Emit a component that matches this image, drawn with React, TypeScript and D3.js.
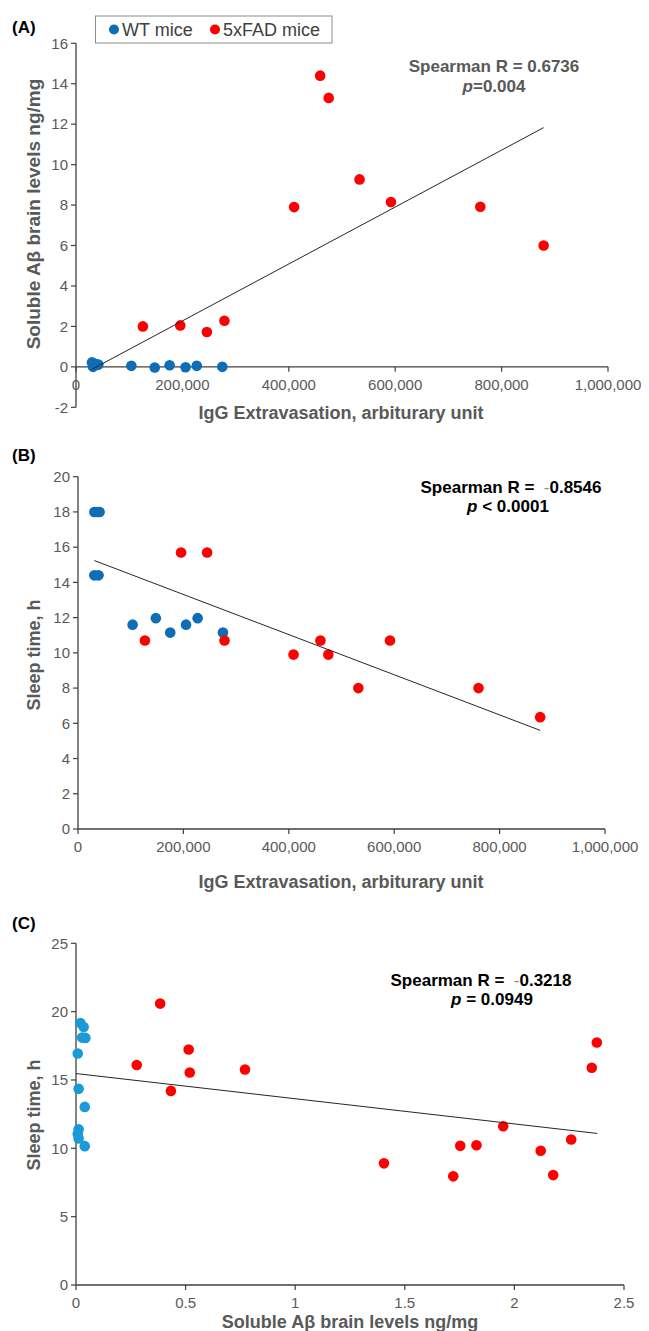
import * as d3 from 'd3'

// panel A: IgG extravasation vs soluble Abeta
const wtIggA = [30000, 32000, 36000, 40000, 42000, 104000, 148000, 176000, 206000, 227000, 275000]
const wtAbetaA = [0.22, 0.0, 0.15, 0.1, 0.12, 0.05, -0.03, 0.08, -0.02, 0.05, 0.0]
const fadIggA = [125700, 196000, 246000, 279000, 410000, 459000, 475000, 533000, 592000, 760000, 879000]
const fadAbetaA = [2.0, 2.05, 1.72, 2.28, 7.9, 14.4, 13.3, 9.27, 8.15, 7.92, 6.0]
const trendA = [[30000, -0.12], [879000, 11.83]]

// panel B: IgG extravasation vs sleep time
const wtIggB = [31000, 36000, 41000, 31000, 39000, 103600, 147700, 175000, 205000, 227000, 275000]
const wtSleepB = [18, 18, 18, 14.4, 14.4, 11.6, 11.97, 11.15, 11.6, 11.97, 11.15]
const fadIggB = [127000, 195500, 245000, 278000, 409000, 460000, 475000, 532000, 592000, 760000, 877000]
const fadSleepB = [10.7, 15.7, 15.7, 10.7, 9.9, 10.7, 9.9, 8.0, 10.7, 8.0, 6.35]
const trendB = [[31000, 15.24], [877000, 5.6]]

// panel C: soluble Abeta vs sleep time
const wtAbetaC = [0.02, 0.035, 0.043, 0.028, 0.008, 0.012, 0.04, 0.012, 0.008, 0.012, 0.04]
const wtSleepC = [19.17, 18.88, 18.08, 18.1, 16.94, 14.35, 13.03, 11.4, 11.04, 10.72, 10.16]
const fadAbetaC = [0.277, 0.384, 0.433, 0.514, 0.519, 0.771, 1.405, 1.721, 1.753, 1.827, 1.949, 2.12, 2.177, 2.259, 2.353, 2.376]
const fadSleepC = [16.1, 20.59, 14.2, 17.23, 15.55, 15.77, 8.9, 7.95, 10.18, 10.23, 11.62, 9.82, 8.04, 10.65, 15.89, 17.74]
const trendC = [[0, 15.47], [2.378, 11.09]]

const ticksIgg = [0, 200000, 400000, 600000, 800000, 1000000]
const ticksAbetaY = [-2, 0, 2, 4, 6, 8, 10, 12, 14, 16]
const ticksSleepB = [0, 2, 4, 6, 8, 10, 12, 14, 16, 18, 20]
const ticksSleepC = [0, 5, 10, 15, 20, 25]
const ticksAbetaX = [0, 0.5, 1, 1.5, 2, 2.5]

const FONT = '"Liberation Sans", Arial, sans-serif'
const GRAY = '#595959'
const AXIS = '#404040'
const RED = '#FF0000'

type PanelProps = {
  label: string
  labelY: number
  x: d3.ScaleLinear<number, number>
  y: d3.ScaleLinear<number, number>
  xTicks: number[]
  yTicks: number[]
  xFmt: (v: number) => string
  xAxisAt: number
  xTickLabelY: number
  xTitle: string
  xTitleX: number
  xTitleY: number
  yTitle: string
  yTitleX: number
  yTitleY: number
  yTitleSize: number
  series: { xs: number[]; ys: number[]; color: string }[]
  trend: number[][]
}

function Panel(p: PanelProps) {
  const [x0, x1] = p.x.range()
  const [yb, yt] = p.y.range()
  const ay = p.y(p.xAxisAt)
  return (
    <g>
      <text x={12} y={p.labelY} fontFamily={FONT} fontWeight="bold" fontSize={17} fill="#000">{p.label}</text>
      {/* y axis */}
      <line x1={x0} x2={x0} y1={yt} y2={yb} stroke={AXIS} strokeWidth={1.3} />
      {p.yTicks.map(t => (
        <g key={'y' + t}>
          <line x1={x0 - 5} x2={x0} y1={p.y(t)} y2={p.y(t)} stroke={AXIS} strokeWidth={1.2} />
          <text x={x0 - 8} y={p.y(t)} dy="0.35em" textAnchor="end" fontFamily={FONT} fontSize={15} fill={GRAY}>{t}</text>
        </g>
      ))}
      {/* x axis */}
      <line x1={x0} x2={x1} y1={ay} y2={ay} stroke={AXIS} strokeWidth={1.3} />
      {p.xTicks.map(t => (
        <g key={'x' + t}>
          <line x1={p.x(t)} x2={p.x(t)} y1={ay} y2={ay + 5} stroke={AXIS} strokeWidth={1.2} />
          <text x={p.x(t)} y={p.xTickLabelY} dy="0.35em" textAnchor="middle" fontFamily={FONT} fontSize={15} fill={GRAY}>{p.xFmt(t)}</text>
        </g>
      ))}
      <text x={p.xTitleX} y={p.xTitleY} dy="0.35em" textAnchor="middle" fontFamily={FONT} fontWeight="bold" fontSize={18} fill={GRAY}>{p.xTitle}</text>
      <text transform={`translate(${p.yTitleX},${p.yTitleY}) rotate(-90)`} dy="0.35em" textAnchor="middle" fontFamily={FONT} fontWeight="bold" fontSize={p.yTitleSize} fill={GRAY}>{p.yTitle}</text>
      {p.series.map((s, si) => (
        <g key={'s' + si}>
          {s.xs.map((v, i) => (
            <circle key={i} cx={p.x(v)} cy={p.y(s.ys[i])} r={5.3} fill={s.color} />
          ))}
        </g>
      ))}
      <line x1={p.x(p.trend[0][0])} y1={p.y(p.trend[0][1])} x2={p.x(p.trend[1][0])} y2={p.y(p.trend[1][1])} stroke="#262626" strokeWidth={1} />
    </g>
  )
}

export default function App() {
  const fmtIgg = d3.format(',')
  const xA = d3.scaleLinear().domain([0, 1000000]).range([76, 608])
  const yA = d3.scaleLinear().domain([-2, 16]).range([407.3, 43.3])
  const xB = d3.scaleLinear().domain([0, 1000000]).range([78, 605])
  const yB = d3.scaleLinear().domain([0, 20]).range([829, 476.7])
  const xC = d3.scaleLinear().domain([0, 2.5]).range([76, 624])
  const yC = d3.scaleLinear().domain([0, 25]).range([1285, 943.3])

  return (
    <svg width={649} height={1331} style={{ position: 'absolute', left: 0, top: 0, background: '#fff' }}>
      <rect x={0} y={0} width={649} height={1331} fill="#fff" />
      <Panel
        label="(A)" labelY={33}
        x={xA} y={yA} xTicks={ticksIgg} yTicks={ticksAbetaY} xFmt={fmtIgg} xAxisAt={0}
        xTickLabelY={385} xTitle="IgG Extravasation, arbiturary unit" xTitleX={341} xTitleY={413}
        yTitle="Soluble Aβ brain levels ng/mg" yTitleX={33} yTitleY={214} yTitleSize={19}
        series={[{ xs: wtIggA, ys: wtAbetaA, color: '#0F6DB5' }, { xs: fadIggA, ys: fadAbetaA, color: RED }]}
        trend={trendA}
      />
      {/* legend */}
      <rect x={95.5} y={16} width={236.5} height={27} fill="#fff" stroke="#8c8c8c" strokeWidth={1} />
      <circle cx={114} cy={29.5} r={5} fill="#0F6DB5" />
      <text x={122} y={29.5} dy="0.35em" fontFamily={FONT} fontSize={18} fill="#404040">WT mice</text>
      <circle cx={215} cy={29.5} r={5} fill={RED} />
      <text x={223} y={29.5} dy="0.35em" fontFamily={FONT} fontSize={18} fill="#404040">5xFAD mice</text>
      <text x={494} y={72} textAnchor="middle" fontFamily={FONT} fontWeight="bold" fontSize={17} fill={GRAY}>Spearman R = 0.6736</text>
      <text x={494} y={92} textAnchor="middle" fontFamily={FONT} fontWeight="bold" fontSize={17} fill={GRAY}>
        <tspan fontStyle="italic">p</tspan>=0.004
      </text>

      <Panel
        label="(B)" labelY={461}
        x={xB} y={yB} xTicks={ticksIgg} yTicks={ticksSleepB} xFmt={fmtIgg} xAxisAt={0}
        xTickLabelY={847} xTitle="IgG Extravasation, arbiturary unit" xTitleX={341} xTitleY={882}
        yTitle="Sleep time, h" yTitleX={34} yTitleY={655} yTitleSize={18}
        series={[{ xs: wtIggB, ys: wtSleepB, color: '#0F6DB5' }, { xs: fadIggB, ys: fadSleepB, color: RED }]}
        trend={trendB}
      />
      <text x={511} y={493} textAnchor="middle" fontFamily={FONT} fontWeight="bold" fontSize={17} fill="#000">
        {'Spearman R =\u00a0 '}<tspan fill="#8c8c8c" fontWeight="normal">-</tspan>0.8546
      </text>
      <text x={508} y={512} textAnchor="middle" fontFamily={FONT} fontWeight="bold" fontSize={17} fill="#000">
        <tspan fontStyle="italic">p</tspan> &lt; 0.0001
      </text>

      <Panel
        label="(C)" labelY={929}
        x={xC} y={yC} xTicks={ticksAbetaX} yTicks={ticksSleepC} xFmt={v => String(v)} xAxisAt={0}
        xTickLabelY={1303} xTitle="Soluble Aβ brain levels ng/mg" xTitleX={350} xTitleY={1322}
        yTitle="Sleep time, h" yTitleX={34} yTitleY={1115} yTitleSize={18}
        series={[{ xs: wtAbetaC, ys: wtSleepC, color: '#1B9AD8' }, { xs: fadAbetaC, ys: fadSleepC, color: RED }]}
        trend={trendC}
      />
      <text x={481} y={986} textAnchor="middle" fontFamily={FONT} fontWeight="bold" fontSize={17} fill="#000">
        {'Spearman R =\u00a0 '}<tspan fill="#8c8c8c" fontWeight="normal">-</tspan>0.3218
      </text>
      <text x={492} y={1005} textAnchor="middle" fontFamily={FONT} fontWeight="bold" fontSize={17} fill="#000">
        <tspan fontStyle="italic">p</tspan> = 0.0949
      </text>
    </svg>
  )
}
